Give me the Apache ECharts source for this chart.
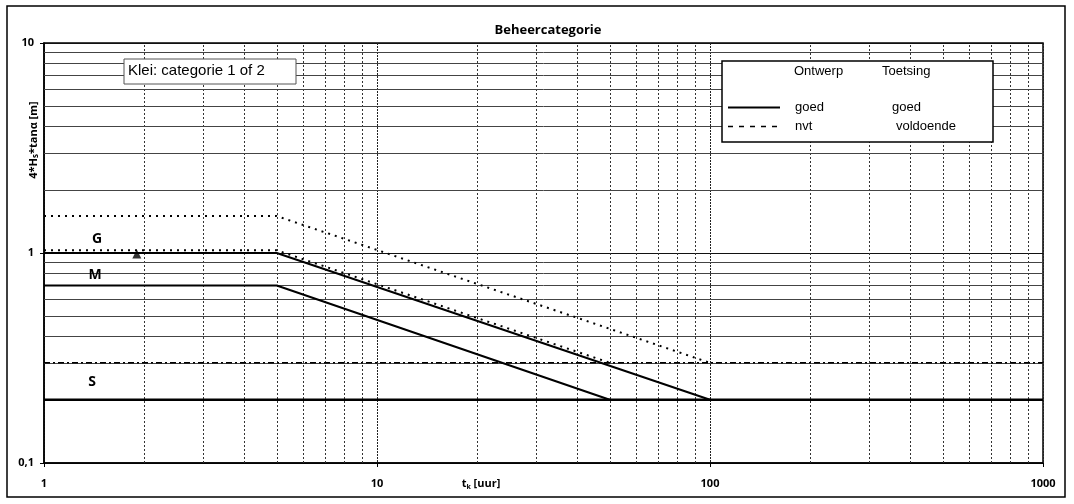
<!DOCTYPE html>
<html>
<head>
<meta charset="utf-8">
<script src="https://cdn.jsdelivr.net/npm/echarts@6/dist/echarts.min.js"></script>
<style>html,body{margin:0;padding:0;background:#fff}#c{width:1074px;height:504px}</style>
</head>
<body>
<div id="c"></div>
<script>
// ---- data ----
const xTickLabels = [1, 10, 100, 1000];
const yTickLabels = [0.1, 1, 10];
const xMinorGrid = [2,3,4,5,6,7,8,9,20,30,40,50,60,70,80,90,200,300,400,500,600,700,800,900];
const yMinorGrid = [0.2,0.3,0.4,0.5,0.6,0.7,0.8,0.9,2,3,4,5,6,7,8,9];

const gSolidX = [1, 5, 100];
const gSolidY = [1, 1, 0.2];
const mSolidX = [1, 5, 50];
const mSolidY = [0.7, 0.7, 0.2];
const upperDotX = [1, 5, 100];
const upperDotY = [1.5, 1.5, 0.3];
const lowerDotX = [1, 5, 50];
const lowerDotY = [1.03, 1.03, 0.3];
const sLineX = [1, 1000];
const sLineY = [0.2, 0.2];
const dashDotX = [1, 1000];
const dashDotY = [0.3, 0.3];
const markerX = [1.9];
const markerY = [0.99];

const zip = (xs, ys) => xs.map((x, i) => [x, ys[i]]);

const chart = echarts.init(document.getElementById('c'), null, {renderer: 'canvas'});
const sans = 'Liberation Sans, Arial, sans-serif';
const bold = 'Open Sans, DejaVu Sans, sans-serif';

const gridMarks = [];
xMinorGrid.forEach(v => gridMarks.push({xAxis: v, lineStyle: {color: '#333', width: 1, type: [2, 2]}}));
yMinorGrid.forEach(v => gridMarks.push({yAxis: v, lineStyle: {color: '#444', width: 1, type: 'solid'}}));

const option = {
  animation: false,
  backgroundColor: '#fff',
  title: {
    text: 'Beheercategorie', left: 543, top: 19, textAlign: 'center',
    textStyle: {fontFamily: bold, fontWeight: 'bold', fontSize: 13, color: '#000'}
  },
  grid: {left: 44, right: 31, top: 43, bottom: 41, show: true, borderColor: '#000', borderWidth: 1.5},
  xAxis: {
    type: 'log', logBase: 10, min: 1, max: 1000,
    axisLine: {lineStyle: {color: '#000', width: 1.5}},
    axisTick: {show: true, length: 4, lineStyle: {color: '#000'}},
    axisLabel: {margin: 15, fontFamily: bold, fontWeight: 'bold', fontSize: 11, color: '#000',
      formatter: v => xTickLabels.includes(v) ? String(v) : ''},
    splitLine: {show: true, lineStyle: {color: '#222', width: 1, type: [2, 1]}}
  },
  yAxis: {
    type: 'log', logBase: 10, min: 0.1, max: 10,
    axisLine: {lineStyle: {color: '#000', width: 1.5}},
    axisTick: {show: true, length: 4, lineStyle: {color: '#000'}},
    axisLabel: {margin: 10, fontFamily: bold, fontWeight: 'bold', fontSize: 11, color: '#000',
      formatter: v => yTickLabels.some(t => Math.abs(t - v) < 1e-9) ? String(v).replace('.', ',') : ''},
    splitLine: {show: true, lineStyle: {color: '#111', width: 1.2}}
  },
  legend: {
    data: [
      {name: 'goed', lineStyle: {type: 'solid', width: 2}, itemStyle: {opacity: 0}},
      {name: 'nvt', lineStyle: {type: [5, 6], width: 1.5}, itemStyle: {opacity: 0}}
    ],
    orient: 'vertical', left: 727, top: 101, padding: 0,
    itemWidth: 52, itemHeight: 14, itemGap: 6, z: 60,
    textStyle: {
      fontFamily: sans, fontSize: 13, color: '#000', padding: [0, 0, 0, 10],
      rich: {
        a: {fontFamily: sans, fontSize: 13, color: '#000', width: 97},
        b: {fontFamily: sans, fontSize: 13, color: '#000'},
        c: {fontFamily: sans, fontSize: 13, color: '#000', padding: [0, 0, 0, 4]}
      }
    },
    formatter: n => n === 'goed' ? '{a|goed}{b|goed}' : '{a|nvt}{c|voldoende}'
  },
  series: [
    {name: 'raster', type: 'line', data: [[1, 1]], symbol: 'none', lineStyle: {opacity: 0}, z: 1, silent: true,
      markLine: {z: 1, silent: true, symbol: ['none', 'none'], label: {show: false}, animation: false, data: gridMarks}},
    {name: 'goed', type: 'line', data: zip(gSolidX, gSolidY), symbol: 'none', z: 10,
      lineStyle: {color: '#000', width: 2}, itemStyle: {color: '#000'}},
    {name: 'goed', type: 'line', data: zip(mSolidX, mSolidY), symbol: 'none', z: 10,
      lineStyle: {color: '#000', width: 2}, itemStyle: {color: '#000'}},
    {name: 'nvt', type: 'line', data: zip(upperDotX, upperDotY), symbol: 'none', z: 10,
      lineStyle: {color: '#000', width: 2, type: [2, 5]}, itemStyle: {color: '#000'}},
    {name: 'nvt', type: 'line', data: zip(lowerDotX, lowerDotY), symbol: 'none', z: 10,
      lineStyle: {color: '#000', width: 2, type: [2, 5]}, itemStyle: {color: '#000'}},
    {name: 'S-grens', type: 'line', data: zip(sLineX, sLineY), symbol: 'none', z: 10,
      lineStyle: {color: '#000', width: 2.5}},
    {name: 'M-grens', type: 'line', data: zip(dashDotX, dashDotY), symbol: 'none', z: 10,
      lineStyle: {color: '#000', width: 1.5, type: [6, 3, 2, 3]}},
    {name: 'meting', type: 'scatter', data: zip(markerX, markerY), symbol: 'triangle', symbolSize: 9, z: 11,
      itemStyle: {color: '#000'}}
  ],
  graphic: [
    {type: 'rect', shape: {x: 7, y: 6, width: 1058, height: 491}, style: {fill: 'none', stroke: '#000', lineWidth: 1.5}, z: 0, silent: true},
    {type: 'rect', shape: {x: 124, y: 59, width: 172, height: 25}, style: {fill: '#fff', stroke: '#555', lineWidth: 1}, z: 50},
    {type: 'text', x: 128, y: 71, style: {text: 'Klei: categorie 1 of 2', font: '15px ' + sans, fill: '#000', textVerticalAlign: 'middle'}, z: 51},
    {type: 'rect', shape: {x: 722, y: 61, width: 271, height: 81}, style: {fill: '#fff', stroke: '#000', lineWidth: 1.5}, z: 50},
    {type: 'text', x: 794, y: 71, style: {text: 'Ontwerp', font: '13px ' + sans, fill: '#000', textVerticalAlign: 'middle'}, z: 61},
    {type: 'text', x: 882, y: 71, style: {text: 'Toetsing', font: '13px ' + sans, fill: '#000', textVerticalAlign: 'middle'}, z: 61},
    {type: 'text', x: 97, y: 239, style: {text: 'G', font: 'bold 14px ' + bold, fill: '#000', textAlign: 'center', textVerticalAlign: 'middle'}, z: 51},
    {type: 'text', x: 95, y: 275, style: {text: 'M', font: 'bold 14px ' + bold, fill: '#000', textAlign: 'center', textVerticalAlign: 'middle'}, z: 51},
    {type: 'text', x: 92, y: 382, style: {text: 'S', font: 'bold 14px ' + bold, fill: '#000', textAlign: 'center', textVerticalAlign: 'middle'}, z: 51},
    {type: 'text', x: 34, y: 140, rotation: Math.PI / 2, z: 51,
      style: {text: '{a|4*H}{s|s}{a|*tan\u03b1 [m]}', align: 'center', verticalAlign: 'middle',
        rich: {a: {font: 'bold 11px ' + bold, fill: '#000'}, s: {font: 'bold 8px ' + bold, fill: '#000', padding: [4, 0, 0, 0]}}}},
    {type: 'text', x: 481, y: 484, z: 51,
      style: {text: '{a|t}{s|k}{a| [uur]}', align: 'center', verticalAlign: 'middle',
        rich: {a: {font: 'bold 11px ' + bold, fill: '#000'}, s: {font: 'bold 7px ' + bold, fill: '#000', padding: [5, 0, 0, 0]}}}}
  ]
};
chart.setOption(option);
</script>
</body>
</html>
